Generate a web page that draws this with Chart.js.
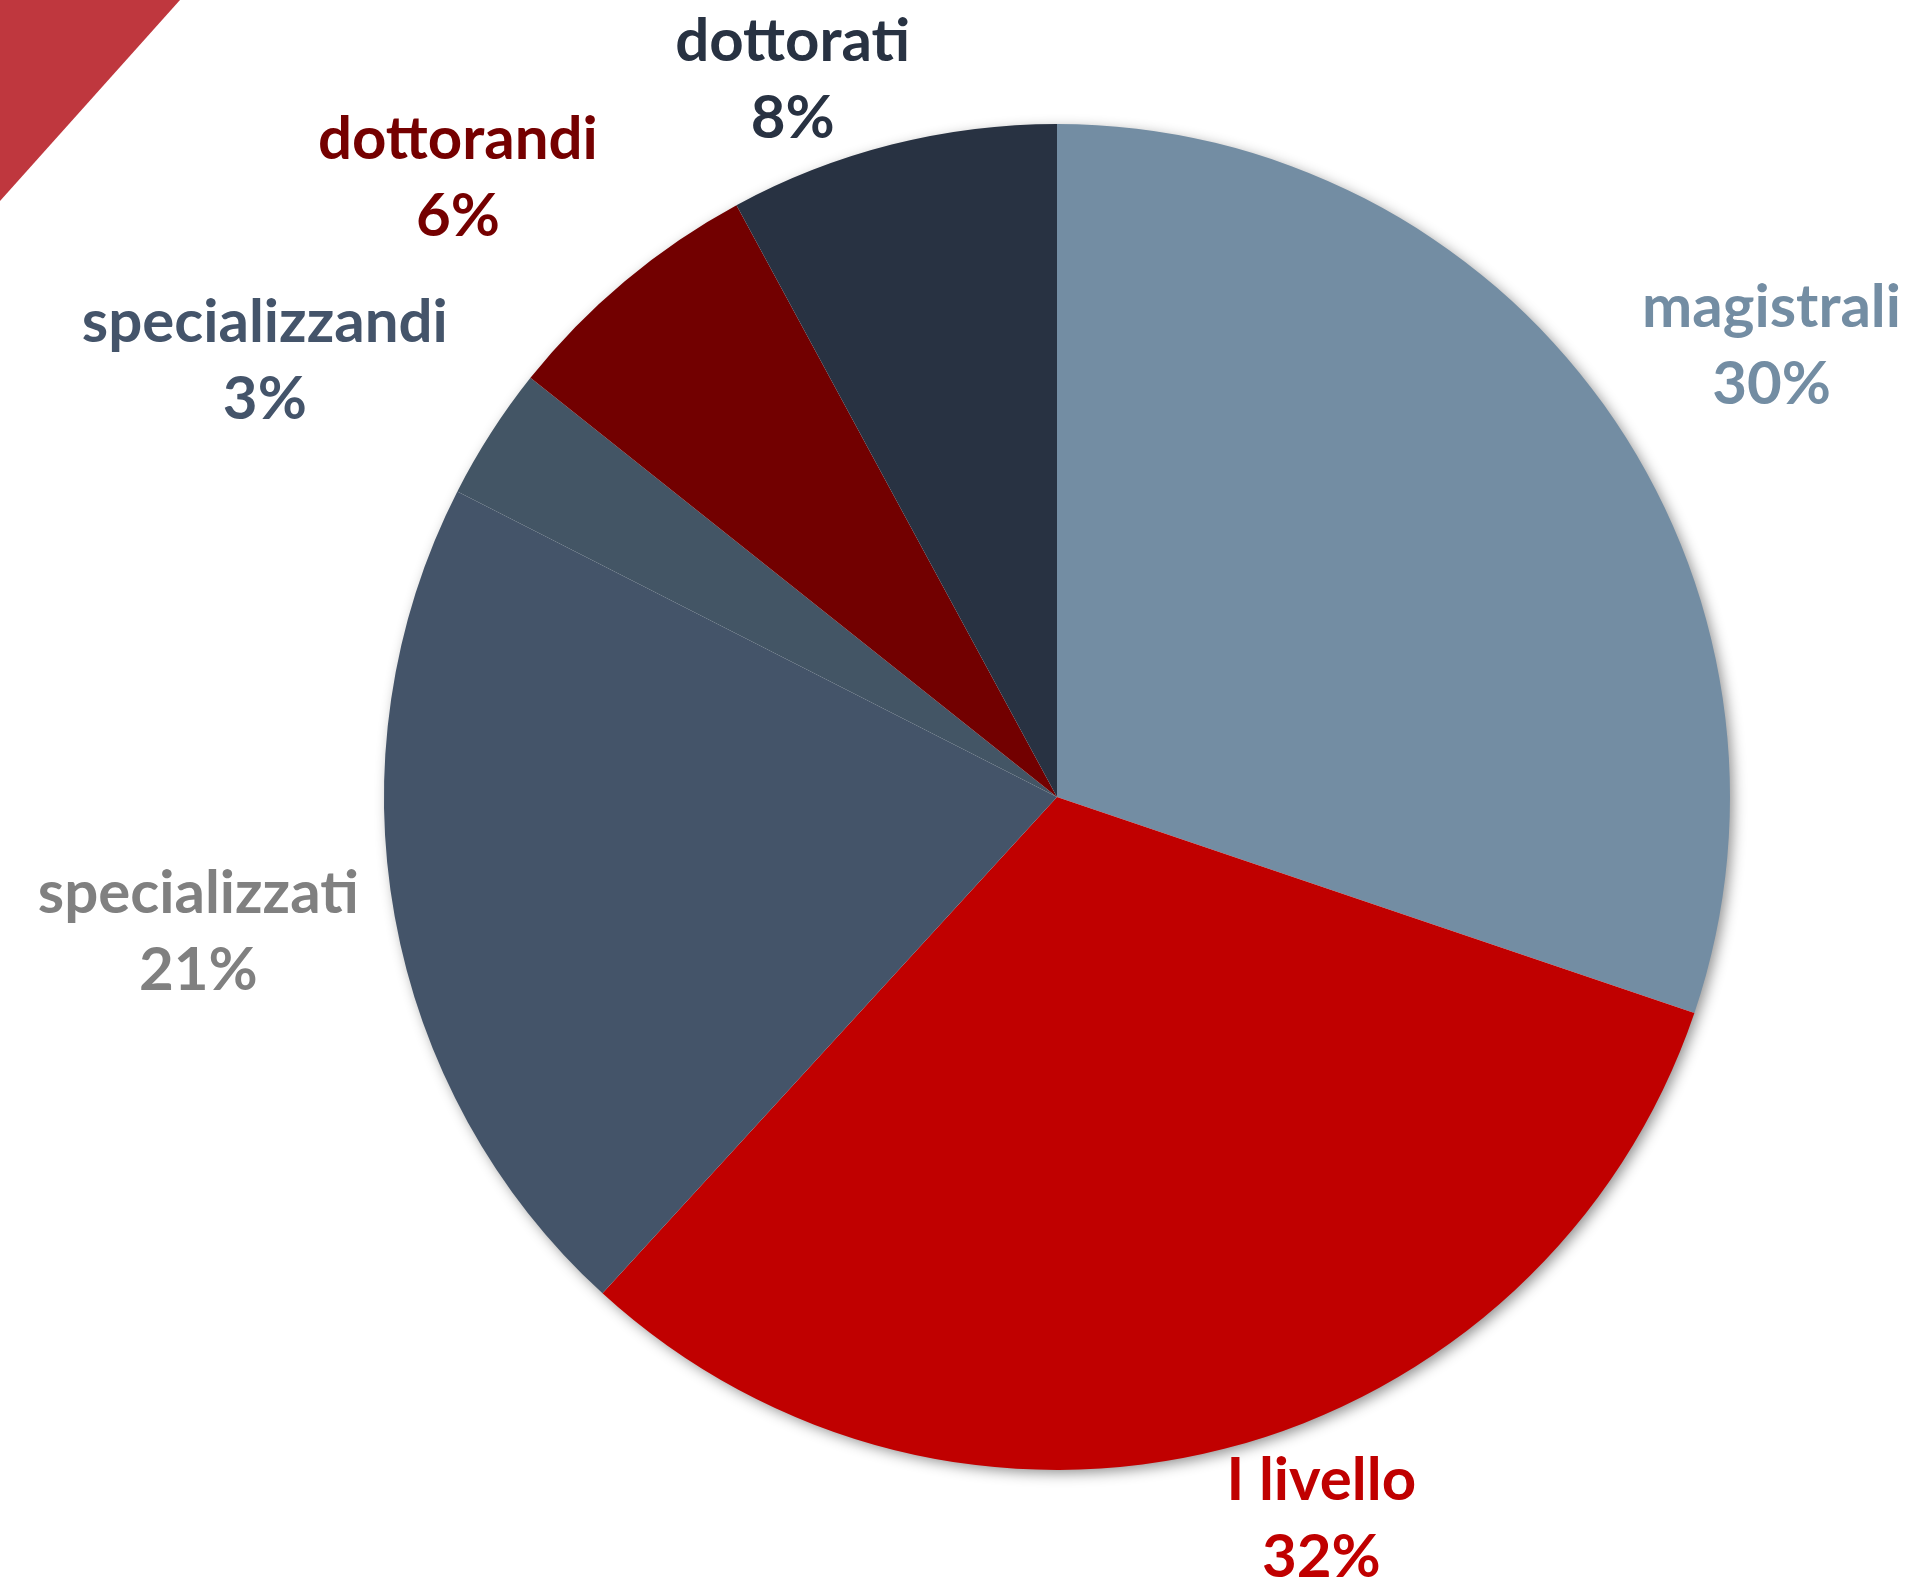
<!DOCTYPE html>
<html>
<head>
<meta charset="utf-8">
<script src="https://cdn.jsdelivr.net/npm/chart.js@4.4.0/dist/chart.umd.min.js"></script>
<style>
    html, body { margin: 0; padding: 0; background: #ffffff; }
    #wrap { width: 1909px; height: 1585px; position: relative; }
</style>
</head>
<body>
<div id="wrap"><canvas id="pie-chart"></canvas></div>
<script>
// ====== DATA ======
const categories = ['magistrali', 'I livello', 'specializzati', 'specializzandi', 'dottorandi', 'dottorati'];
const shares = [30.2, 31.6, 20.7, 3.2, 6.4, 7.9];
const sliceColors = ['#738DA3', '#C00000', '#445469', '#435565', '#720000', '#283242'];
const labelColors = ['#738DA3', '#C00000', '#808080', '#44546A', '#750000', '#283242'];

// ====== LABEL STYLE ======
const LABEL_FONT = 'bold 60px Lato, "Open Sans", sans-serif';
const LINE_STEP = 77;
const LABEL_GAP = 30;
const LABEL_SHIFT = 5 * Math.PI / 180;
const EDGE_MARGIN = 8;

// ====== CORNER TRIANGLE ======
const cornerTriangle = {
    id: 'cornerTriangle',
    beforeDraw(chart) {
        const ctx = chart.ctx;
        ctx.save();
        ctx.fillStyle = '#BF373E';
        ctx.beginPath();
        ctx.moveTo(0, 0);
        ctx.lineTo(180, 0);
        ctx.lineTo(0, 201);
        ctx.closePath();
        ctx.fill();
        ctx.restore();
    }
};

// ====== PIE SHADOW ======
const pieShadow = {
    id: 'pieShadow',
    beforeDatasetsDraw(chart) {
        const arc = chart.getDatasetMeta(0).data[0];
        if (!arc) return;
        const { x, y, outerRadius } = arc.getProps(['x', 'y', 'outerRadius'], true);
        const ctx = chart.ctx;
        ctx.save();
        ctx.shadowColor = 'rgba(0, 0, 0, 0.45)';
        ctx.shadowBlur = 14;
        ctx.shadowOffsetX = 4;
        ctx.shadowOffsetY = 4;
        ctx.fillStyle = '#ffffff';
        ctx.beginPath();
        ctx.arc(x, y, outerRadius - 1, 0, Math.PI * 2);
        ctx.fill();
        ctx.restore();
    }
};

// ====== OUTSIDE LABELS ======
const outsideLabels = {
    id: 'outsideLabels',
    afterDatasetsDraw(chart) {
        const ctx = chart.ctx;
        const meta = chart.getDatasetMeta(0);
        const total = shares.reduce((s, v) => s + v, 0);
        ctx.save();
        ctx.font = LABEL_FONT;
        ctx.textAlign = 'center';
        ctx.textBaseline = 'alphabetic';

        meta.data.forEach((arc, i) => {
            const p = arc.getProps(['x', 'y', 'startAngle', 'endAngle', 'outerRadius'], true);
            const line1 = categories[i];
            const line2 = Math.round(shares[i] / total * 100) + '%';
            const w = Math.max(ctx.measureText(line1).width, ctx.measureText(line2).width);
            const h = 130;

            // angle from 12 o'clock, clockwise; nudge labels a bit toward the horizontal
            let theta = (p.startAngle + p.endAngle) / 2 + Math.PI / 2;
            theta = (theta + Math.PI * 2) % (Math.PI * 2);
            const target = Math.sin(theta) >= 0 ? Math.PI / 2 : Math.PI * 1.5;
            const diff = target - theta;
            const deg = Math.abs(diff) * 180 / Math.PI;
            const k = Math.min(1, Math.max(0, (deg - 10) / 20));
            theta += Math.sign(diff) * LABEL_SHIFT * k;

            const sx = Math.sin(theta), cy = -Math.cos(theta);
            const dist = p.outerRadius + LABEL_GAP + Math.abs(sx) * w / 2 + Math.abs(cy) * h / 2;
            let lx = p.x + sx * dist;
            let ly = p.y + cy * dist;

            // keep inside canvas
            lx = Math.min(Math.max(lx, w / 2 + EDGE_MARGIN), chart.width - w / 2 - EDGE_MARGIN);
            ly = Math.max(ly, LINE_STEP / 2 + 45 + EDGE_MARGIN + 8);
            ly = Math.min(ly, chart.height - LINE_STEP / 2 - EDGE_MARGIN);

            ctx.fillStyle = labelColors[i];
            ctx.fillText(line1, lx, ly - LINE_STEP / 2);
            ctx.fillText(line2, lx, ly + LINE_STEP / 2);
        });
        ctx.restore();
    }
};

// ====== INIT CHART ======
function initChart() {
    const ctx = document.getElementById('pie-chart');
    new Chart(ctx, {
        type: 'pie',
        data: {
            labels: categories,
            datasets: [{
                data: shares,
                backgroundColor: sliceColors,
                borderWidth: 0
            }]
        },
        options: {
            responsive: true,
            maintainAspectRatio: false,
            animation: false,
            layout: {
                padding: { left: 384, top: 124, right: 179, bottom: 115 }
            },
            plugins: {
                legend: { display: false },
                tooltip: { enabled: false }
            }
        },
        plugins: [cornerTriangle, pieShadow, outsideLabels]
    });
}

initChart();
</script>
</body>
</html>
